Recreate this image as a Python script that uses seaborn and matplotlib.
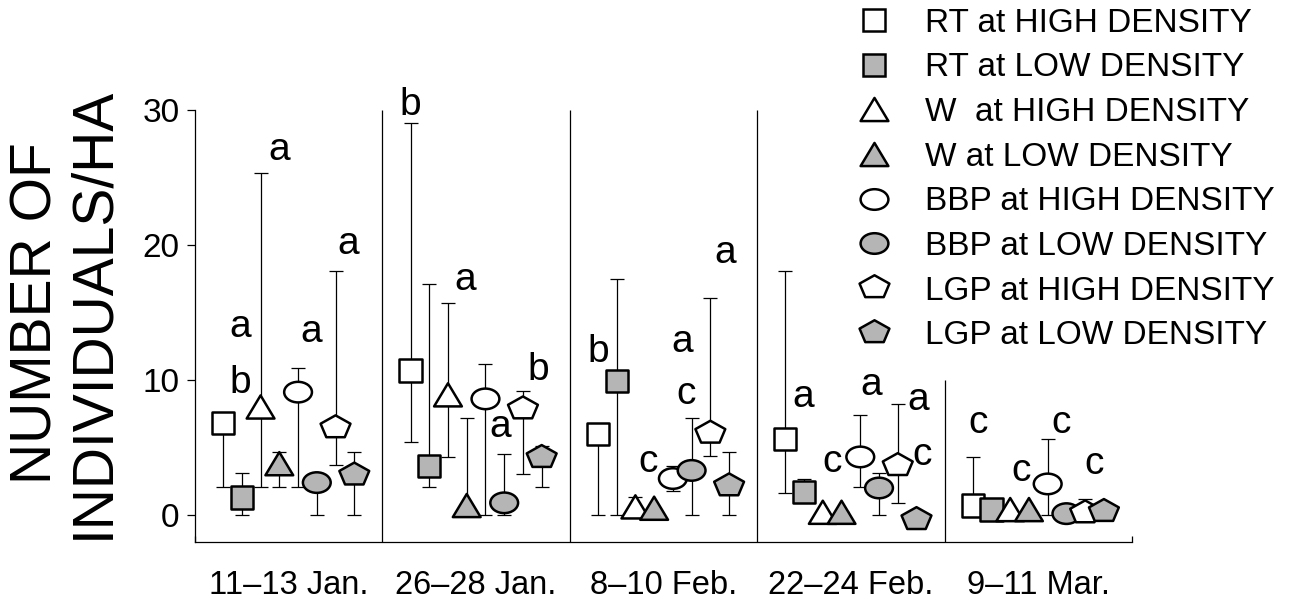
"""
Seasonal abundance of the four species at high and low density plots.
Means with error bars, letters mark significant differences.
"""

import numpy as np
import pandas as pd
import matplotlib
matplotlib.use("Agg")
import matplotlib.pyplot as plt
from matplotlib.path import Path
from matplotlib.lines import Line2D
import seaborn as sns


# Sampling periods (x categories)
periods = ["11\u201313 Jan.", "26\u201328 Jan.", "8\u201310 Feb.", "22\u201324 Feb.", "9\u201311 Mar."]

# Series, in drawing / legend order
series = [
    "RT at HIGH DENSITY", "RT at LOW DENSITY",
    "W  at HIGH DENSITY", "W at LOW DENSITY",
    "BBP at HIGH DENSITY", "BBP at LOW DENSITY",
    "LGP at HIGH DENSITY", "LGP at LOW DENSITY",
]

# mean number of individuals/ha, one row per series, one column per period
means = [
    [6.8, 10.7, 6.0, 5.6, 0.7],
    [1.3, 3.6, 9.9, 1.7, 0.4],
    [8.0, 8.9, 0.6, 0.2, 0.4],
    [3.8, 0.7, 0.5, 0.2, 0.4],
    [9.1, 8.6, 2.7, 4.3, 2.3],
    [2.4, 0.9, 3.3, 2.0, 0.1],
    [6.4, 7.8, 6.0, 3.6, 0.1],
    [2.9, 4.2, 2.1, -0.4, 0.2],
]
lower = [
    [2.1, 5.4, 0.0, 1.6, 0.7],
    [0.0, 2.1, 0.0, 1.7, 0.4],
    [2.1, 4.3, 0.0, 0.2, 0.4],
    [2.1, 0.0, 0.5, 0.2, 0.4],
    [2.1, 0.0, 1.8, 2.1, 0.0],
    [0.0, 0.0, 0.0, 0.0, 0.1],
    [3.7, 3.0, 4.4, 0.9, 0.1],
    [0.0, 2.1, 0.0, -0.4, 0.2],
]
upper = [
    [6.8, 29.0, 6.0, 18.1, 4.3],
    [3.1, 17.1, 17.5, 2.7, 0.4],
    [25.3, 15.7, 1.3, 0.2, 0.4],
    [4.7, 7.2, 0.5, 0.2, 0.4],
    [10.9, 11.2, 3.6, 7.4, 5.6],
    [2.4, 4.5, 7.2, 3.1, 0.1],
    [18.1, 9.2, 16.1, 8.2, 1.2],
    [4.7, 5.1, 4.7, -0.4, 0.2],
]

# significance letters: period, slot (series position), baseline value, letter
letter_period = [0, 0, 0, 0, 0, 1, 1, 1, 1, 2, 2, 2, 2, 2, 3, 3, 3, 3, 3, 4, 4, 4, 4]
letter_slot = [0.9, 0.9, 3.0, 4.7, 6.7, 0.0, 2.9, 4.8, 6.8, 0.0, 2.7, 4.5, 4.7, 6.8,
               0.95, 2.5, 4.6, 7.1, 7.3, 0.3, 2.6, 4.7, 6.5]
letter_y = [13.2, 9.0, 26.3, 12.8, 19.3, 29.6, 16.7, 5.8, 10.0, 11.3, 3.2, 12.1, 8.2, 18.7,
            8.0, 3.2, 8.9, 7.8, 3.7, 6.1, 2.5, 6.1, 3.0]
letter_text = ["a", "b", "a", "a", "a", "b", "a", "a", "b", "b", "c", "a", "c", "a",
               "a", "c", "a", "a", "c", "c", "c", "c", "c"]


def stretched(verts, sx):
    """Closed marker path, stretched horizontally by sx."""
    v = np.asarray(verts, dtype=float) * [sx, 1.0]
    v = np.vstack([v, v[:1]])
    codes = [Path.MOVETO] + [Path.LINETO] * (len(v) - 2) + [Path.CLOSEPOLY]
    return Path(v, codes)


ang = np.deg2rad(90 + 72 * np.arange(5))
pentagon = stretched(np.c_[np.cos(ang), np.sin(ang) + 0.095], 1.3)
triangle = stretched([(-0.5, -0.5), (0.5, -0.5), (0.0, 0.5)], 1.2)
ellipse = Path.unit_circle().transformed(matplotlib.transforms.Affine2D().scale(1.35, 1.0))

GRAY = "#b5b5b5"
shape = ["s", "s", triangle, triangle, ellipse, ellipse, pentagon, pentagon]
face = ["white", GRAY] * 4
msize = [16, 16, 20, 20, 20, 20, 21.5, 21.5]

# long-form table
rows = []
for i, name in enumerate(series):
    for p in range(len(periods)):
        rows.append({
            "series": name,
            "x": p + 0.15 + 0.1 * i,
            "mean": means[i][p],
            "lo": lower[i][p],
            "hi": upper[i][p],
        })
df = pd.DataFrame(rows)

sns.set_style("ticks")
plt.rcParams["font.family"] = ["Liberation Sans", "DejaVu Sans"]
plt.rcParams.update({
    "text.color": "black", "axes.labelcolor": "black",
    "xtick.color": "black", "ytick.color": "black", "axes.edgecolor": "black",
})

fig = plt.figure(figsize=(12.93, 6.01), dpi=100)
ax = fig.add_axes([0.1508, 0.0982, 0.7247, 0.7188])

# error bars behind the symbols
ax.errorbar(df["x"], df["mean"],
            yerr=[df["mean"] - df["lo"], df["hi"] - df["mean"]],
            fmt="none", ecolor="black", elinewidth=0.9,
            capsize=4.7, capthick=0.9, zorder=2)

sns.scatterplot(
    data=df, x="x", y="mean", hue="series", style="series", size="series",
    palette=dict(zip(series, face)),
    markers=dict(zip(series, shape)),
    sizes={s: m ** 2 for s, m in zip(series, msize)},
    edgecolor="black", linewidth=1.8, legend=False, zorder=3, ax=ax,
)

for p, s, y, t in zip(letter_period, letter_slot, letter_y, letter_text):
    ax.text(p + 0.15 + 0.1 * s, y, t, ha="center", va="baseline", fontsize=28)

# period separators
ax.vlines([1, 2, 3], -2, 30, color="black", linewidth=0.9)
ax.vlines([4], -2, 10, color="black", linewidth=0.9)

ax.set_xlim(0, 5)
ax.set_ylim(-2, 30)
ax.set_yticks([0, 10, 20, 30])
ax.set_xticks(np.arange(len(periods)) + 0.5)
ax.set_xticklabels(periods)
ax.set_xticks([0, 5], minor=True)
ax.tick_params(axis="x", which="major", length=0, pad=20, labelsize=23.5)
ax.tick_params(axis="x", which="minor", direction="in", length=4, width=0.9)
ax.tick_params(axis="y", direction="out", length=6, width=0.9, pad=5, labelsize=24)
ax.set_xlabel("")
ax.set_ylabel("")
sns.despine(ax=ax)
for sp in ["left", "bottom"]:
    ax.spines[sp].set_linewidth(0.9)

fig.text(65 / 1293, 0.479, "NUMBER OF\nINDIVIDUALS/HA", rotation=90,
         ha="center", va="center", fontsize=41, linespacing=1.05)

handles = [
    Line2D([], [], linestyle="none", marker=m, markersize=ms,
           markerfacecolor=fc, markeredgecolor="black", markeredgewidth=1.8)
    for m, fc, ms in zip(shape, face, msize)
]
fig.legend(handles, series, loc="upper left", bbox_to_anchor=(852 / 1293, 0.993),
           frameon=False, fontsize=24, handlelength=1.1, handletextpad=1.0,
           labelspacing=0.41, borderaxespad=0.0, borderpad=0.1)

fig.savefig("out.png", dpi=100)
